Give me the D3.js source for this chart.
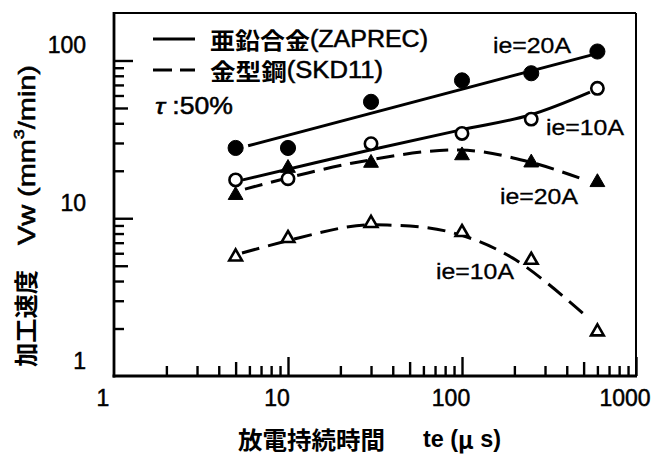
<!DOCTYPE html>
<html><head><meta charset="utf-8">
<script src="https://cdn.jsdelivr.net/npm/d3@7"></script>
<style>body{margin:0;background:#fff} svg{display:block}</style>
</head><body>
<svg id="c" width="666" height="457"></svg>
<script>
// ---- data ----
const te = [5, 10, 30, 100, 250, 600];
const zaprec20 = [27.9, 27.9, 54.7, 74.8, 83.0, 114];
const zaprec10 = [17.5, 17.8, 29.7, 34.5, 42.5, 66.6];
const skd20 = [14.0, 20.8, 22.4, 25.0, 22.5, 16.9];
const skd10 = [5.7, 7.46, 9.29, 8.14, 5.43, 1.91];
// trend curves as drawn in the picture: [te, Vw]
const fitZaprec20 = [[5.9, 28.8], [566, 109]];
const fitZaprec10 = [[5.5, 17.5], [29.6, 27.1], [97.4, 36.2], [246, 45.1], [544, 63.0]];
const fitSkd20 = [[5.66, 15.3], [23.2, 22.3], [97.4, 27.1], [246, 22.7], [507, 17.5]];
const fitSkd10 = [[5.44, 6.02], [21.8, 8.79], [37.1, 9.06], [85.3, 8.18], [196, 5.59], [523, 2.37]];
const xTickLabels = [1, 10, 100, 1000];
const yTickLabels = [1, 10, 100];
const legendNames = ["亜鉛合金(ZAPREC)", "金型鋼(SKD11)"];
const seriesLabels = ["ie=20A", "ie=10A", "ie=20A", "ie=10A"];

const LAT = "'Liberation Sans', Arial, sans-serif";
const CJK = "'Noto Sans CJK JP', 'Noto Sans CJK SC', sans-serif";

const svg = d3.select("#c");
const L = 114, R = 636, T = 13, B = 376;
const x = d3.scaleLog().domain([1, 1000]).range([L, R]);
const y = d3.scaleLog().domain([1, 200]).range([B, T]);

// ---- ticks ----
const isPow = v => Math.abs(Math.log10(v) - Math.round(Math.log10(v))) < 1e-9;
const isFive = v => Math.abs(v / Math.pow(10, Math.floor(Math.log10(v) + 1e-9)) - 5) < 1e-9;
const xt = x.ticks().filter(v => v > 1);
const yt = y.ticks().filter(v => v > 1 && v <= 100);
function tickGroup(axisFn, scale, vals, size, tr) {
  const g = svg.append("g").attr("transform", tr)
    .call(axisFn(scale).tickValues(vals).tickSize(-size).tickSizeOuter(0).tickFormat(""));
  g.select(".domain").remove();
  g.selectAll(".tick line").attr("stroke", "#000").attr("stroke-width", 2.4);
}
tickGroup(d3.axisBottom, x, xt.filter(isPow), 19, `translate(0,${B})`);
tickGroup(d3.axisBottom, x, xt.filter(isFive), 14, `translate(0,${B})`);
tickGroup(d3.axisBottom, x, xt.filter(v => !isPow(v) && !isFive(v)), 10, `translate(0,${B})`);
tickGroup(d3.axisLeft, y, yt.filter(isPow), 19, `translate(${L},0)`);
tickGroup(d3.axisLeft, y, yt.filter(isFive), 14, `translate(${L},0)`);
tickGroup(d3.axisLeft, y, yt.filter(v => !isPow(v) && !isFive(v)), 10, `translate(${L},0)`);

// ---- frame ----
svg.append("line").attr("x1", L).attr("x2", R).attr("y1", T).attr("y2", T).attr("stroke", "#000").attr("stroke-width", 2);
svg.append("line").attr("x1", R).attr("x2", R).attr("y1", T).attr("y2", B).attr("stroke", "#000").attr("stroke-width", 2);
svg.append("line").attr("x1", L).attr("x2", L).attr("y1", T - 1).attr("y2", B + 1.4).attr("stroke", "#000").attr("stroke-width", 2.8);
svg.append("line").attr("x1", L - 1.4).attr("x2", R + 1).attr("y1", B).attr("y2", B).attr("stroke", "#000").attr("stroke-width", 2.8);

// ---- tick labels ----
svg.selectAll(".xl").data(xTickLabels).join("text")
  .attr("x", d => x(d) - 11).attr("y", B + 22).attr("dominant-baseline", "central")
  .attr("text-anchor", "middle").attr("font-family", LAT).attr("font-size", 23)
  .attr("stroke", "#000").attr("stroke-width", 0.5).text(d => d);
svg.selectAll(".yl").data(yTickLabels).join("text")
  .attr("x", 86).attr("y", d => y(d) - 15).attr("dominant-baseline", "central")
  .attr("text-anchor", "end").attr("font-family", LAT).attr("font-size", 23)
  .attr("stroke", "#000").attr("stroke-width", 0.5).text(d => d);

// ---- curves ----
const line = d3.line().x(d => x(d[0])).y(d => y(d[1])).curve(d3.curveCatmullRom.alpha(0.5));
const curves = [
  {d: fitZaprec20, dash: null}, {d: fitZaprec10, dash: null},
  {d: fitSkd20, dash: "18,9"}, {d: fitSkd10, dash: "18,9"}
];
curves.forEach(c => {
  svg.append("path").attr("d", line(c.d)).attr("fill", "none").attr("stroke", "#000")
    .attr("stroke-width", 3).attr("stroke-dasharray", c.dash);
});

// ---- markers ----
const series = [
  {v: zaprec20, type: d3.symbolCircle, size: 180, fill: "#000"},
  {v: zaprec10, type: d3.symbolCircle, size: 120, fill: "#fff"},
  {v: skd20, type: d3.symbolTriangle, size: 95, fill: "#000"},
  {v: skd10, type: d3.symbolTriangle, size: 70, fill: "#fff"}
];
series.forEach(s => {
  svg.append("g").selectAll("path").data(te.map((t, i) => [t, s.v[i]])).join("path")
    .attr("transform", d => `translate(${x(d[0])},${y(d[1])})`)
    .attr("d", d3.symbol().type(s.type).size(s.size)())
    .attr("fill", s.fill).attr("stroke", "#000").attr("stroke-width", s.fill === "#000" ? 1 : 2.6);
});

// ---- legend ----
svg.append("line").attr("x1", 153).attr("x2", 195).attr("y1", 39).attr("y2", 39).attr("stroke", "#000").attr("stroke-width", 3);
svg.append("line").attr("x1", 153).attr("x2", 195).attr("y1", 70).attr("y2", 70).attr("stroke", "#000").attr("stroke-width", 3).attr("stroke-dasharray", "19,8");
function mixText(xp, yp, cjk, lat, len) {
  const t = svg.append("text").attr("x", xp).attr("y", yp).attr("dominant-baseline", "central")
    .attr("font-size", 23).attr("textLength", len).attr("lengthAdjust", "spacingAndGlyphs");
  t.append("tspan").attr("font-family", CJK).attr("font-weight", "bold").text(cjk);
  t.append("tspan").attr("font-family", LAT).attr("stroke", "#000").attr("stroke-width", 0.5).text(lat);
}
mixText(210, 39, legendNames[0].slice(0, 4), legendNames[0].slice(4), 218);
mixText(210, 70, legendNames[1].slice(0, 3), legendNames[1].slice(3), 173);
svg.append("text").attr("x", 155).attr("y", 106).attr("dominant-baseline", "central")
  .attr("font-family", LAT).attr("font-size", 23).attr("stroke", "#000").attr("stroke-width", 0.5)
  .attr("textLength", 78).attr("lengthAdjust", "spacingAndGlyphs")
  .call(t => { t.append("tspan").attr("font-style", "italic").text("τ"); t.append("tspan").text(" :50%"); });

// ---- series labels ----
const labelPos = [[493, 45], [546, 127], [500, 196], [436, 271]];
seriesLabels.forEach((s, i) => {
  svg.append("text").attr("x", labelPos[i][0]).attr("y", labelPos[i][1]).attr("dominant-baseline", "central")
    .attr("font-family", LAT).attr("font-size", 22).attr("stroke", "#000").attr("stroke-width", 0.3)
    .attr("textLength", 78).attr("lengthAdjust", "spacingAndGlyphs").text(s);
});

// ---- axis titles ----
svg.append("text").attr("x", 238).attr("y", 438).attr("dominant-baseline", "central")
  .attr("font-family", CJK).attr("font-weight", "bold").attr("font-size", 24)
  .attr("textLength", 147).attr("lengthAdjust", "spacingAndGlyphs").text("放電持続時間");
svg.append("text").attr("x", 423).attr("y", 438).attr("dominant-baseline", "central")
  .attr("font-family", LAT).attr("font-weight", "bold").attr("font-size", 24)
  .attr("textLength", 78).attr("lengthAdjust", "spacingAndGlyphs")
  .call(t => { t.append("tspan").text("te ("); t.append("tspan").attr("font-family", CJK).text("μ"); t.append("tspan").text(" s)"); });

const yt1 = svg.append("g").attr("transform", "translate(24,367) rotate(-90)");
yt1.append("text").attr("x", 0).attr("y", 0).attr("dominant-baseline", "central")
  .attr("font-family", CJK).attr("font-weight", "bold").attr("font-size", 24)
  .attr("textLength", 97).attr("lengthAdjust", "spacingAndGlyphs").text("加工速度");
yt1.append("text").attr("x", 122).attr("y", 2).attr("dominant-baseline", "central")
  .attr("font-family", LAT).attr("font-size", 24).attr("stroke", "#000").attr("stroke-width", 0.6)
  .attr("textLength", 180).attr("lengthAdjust", "spacingAndGlyphs")
  .call(t => {
    t.append("tspan").text("Vw (mm");
    t.append("tspan").attr("font-size", 15).attr("dy", -8).text("3");
    t.append("tspan").attr("dy", 8).text("/min)");
  });
</script>
</body></html>
